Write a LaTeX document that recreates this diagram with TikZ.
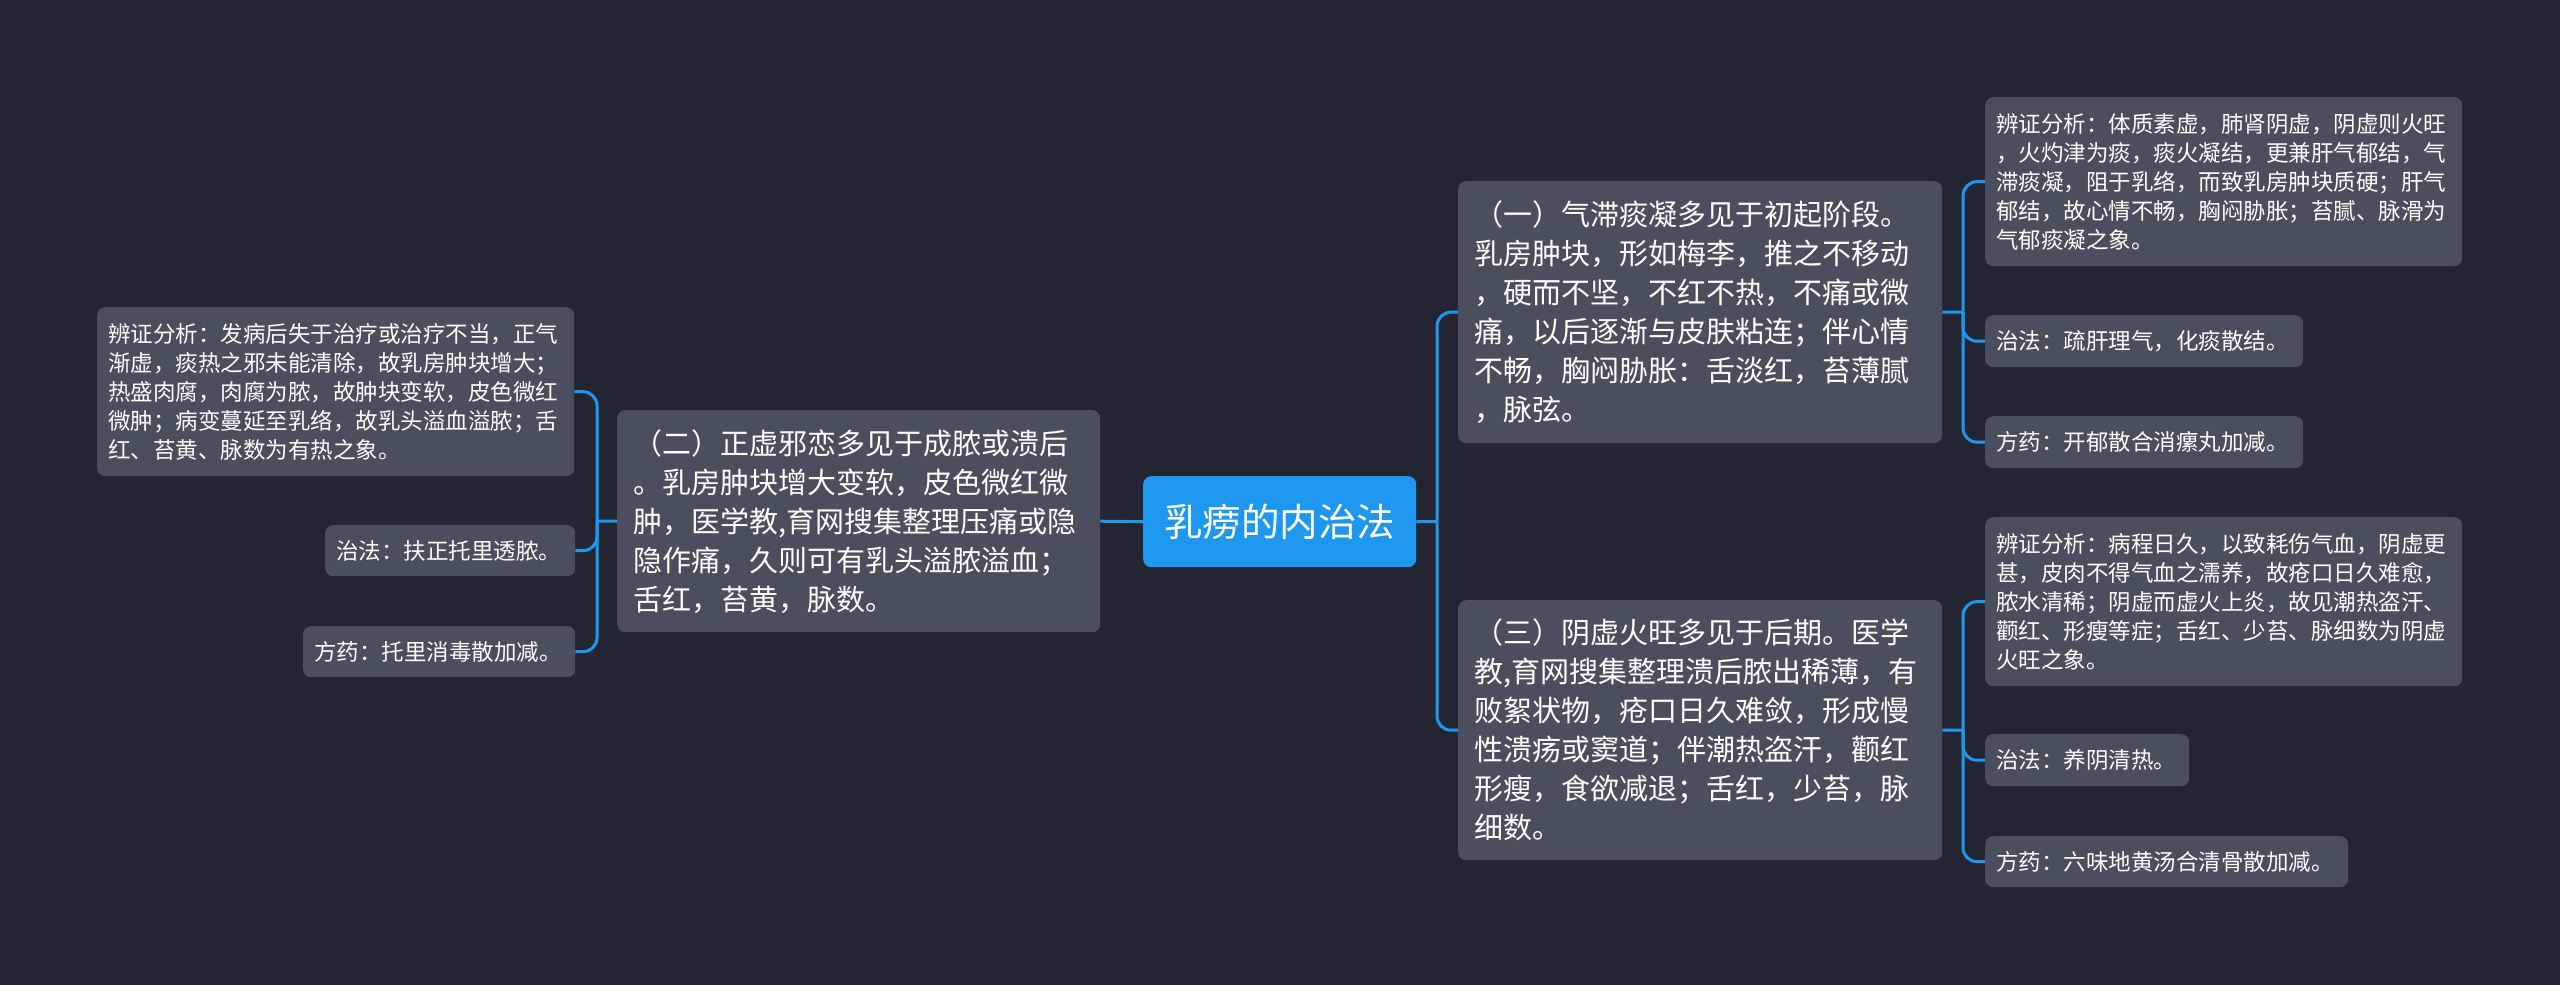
\documentclass[tikz,border=0pt]{standalone}
\usepackage{fontspec}
\setmainfont{Noto Sans CJK SC}
\definecolor{bgc}{HTML}{232632}
\definecolor{boxc}{HTML}{4A4F5D}
\definecolor{bluec}{HTML}{1E98EE}
\tikzset{
  base/.style={fill=boxc, rounded corners=8pt, text=white, anchor=north west, align=left},
  big/.style={base, inner xsep=16pt, inner ysep=0pt, font=\fontsize{29}{39}\selectfont},
  small/.style={base, inner xsep=11pt, inner ysep=0pt, font=\fontsize{22.5}{29}\selectfont},
  rootbox/.style={fill=bluec, rounded corners=8pt, text=white, anchor=north west, align=center, inner sep=0pt, font=\fontsize{38.5}{44}\selectfont},
  conn/.style={draw=bluec, line width=3pt},
  elbow/.style={conn, rounded corners=14pt}
}
\begin{document}
\begin{tikzpicture}[x=1pt, y=-1pt]
\fill[bgc] (0,0) rectangle (2560,985);
\useasboundingbox (0,0) rectangle (2560,985);

% root
\node[rootbox, minimum width=273pt, minimum height=91pt] (root) at (1143,476) {乳痨的内治法};

% main branches
\node[big, text width=451pt, minimum height=222pt] (two) at (617,410) {（二）正虚邪恋多见于成脓或溃后\\。乳房肿块增大变软，皮色微红微\\肿，医学教,育网搜集整理压痛或隐\\隐作痛，久则可有乳头溢脓溢血；\\舌红，苔黄，脉数。};
\node[big, text width=452pt, minimum height=262pt] (one) at (1458,181) {（一）气滞痰凝多见于初起阶段。\\乳房肿块，形如梅李，推之不移动\\，硬而不坚，不红不热，不痛或微\\痛，以后逐渐与皮肤粘连；伴心情\\不畅，胸闷胁胀：舌淡红，苔薄腻\\，脉弦。};
\node[big, text width=452pt, minimum height=260pt] (three) at (1458,600) {（三）阴虚火旺多见于后期。医学\\教,育网搜集整理溃后脓出稀薄，有\\败絮状物，疮口日久难敛，形成慢\\性溃疡或窦道；伴潮热盗汗，颧红\\形瘦，食欲减退；舌红，少苔，脉\\细数。};

% left leaves
\node[small, text width=455pt, minimum height=169pt] (la) at (97,307) {辨证分析：发病后失于治疗或治疗不当，正气\\渐虚，痰热之邪未能清除，故乳房肿块增大；\\热盛肉腐，肉腐为脓，故肿块变软，皮色微红\\微肿；病变蔓延至乳络，故乳头溢血溢脓；舌\\红、苔黄、脉数为有热之象。};
\node[small, text width=228pt, minimum height=51pt] (lb) at (325,525) {治法：扶正托里透脓。};
\node[small, text width=250pt, minimum height=51pt] (lc) at (303,626) {方药：托里消毒散加减。};

% right leaves of (one)
\node[small, text width=455pt, minimum height=169pt] (ra) at (1985,97) {辨证分析：体质素虚，肺肾阴虚，阴虚则火旺\\，火灼津为痰，痰火凝结，更兼肝气郁结，气\\滞痰凝，阻于乳络，而致乳房肿块质硬；肝气\\郁结，故心情不畅，胸闷胁胀；苔腻、脉滑为\\气郁痰凝之象。};
\node[small, text width=296pt, minimum height=52pt] (rb) at (1985,315) {治法：疏肝理气，化痰散结。};
\node[small, text width=296pt, minimum height=52pt] (rc) at (1985,416) {方药：开郁散合消瘰丸加减。};

% right leaves of (three)
\node[small, text width=455pt, minimum height=169pt] (rd) at (1985,517) {辨证分析：病程日久，以致耗伤气血，阴虚更\\甚，皮肉不得气血之濡养，故疮口日久难愈，\\脓水清稀；阴虚而虚火上炎，故见潮热盗汗、\\颧红、形瘦等症；舌红、少苔、脉细数为阴虚\\火旺之象。};
\node[small, text width=182pt, minimum height=52pt] (re) at (1985,734) {治法：养阴清热。};
\node[small, text width=341pt, minimum height=51pt] (rf) at (1985,836) {方药：六味地黄汤合清骨散加减。};

% junctions
\coordinate (jR) at (1437,521.5);
\coordinate (jL) at (597,521);
\coordinate (j1) at (1963,312);
\coordinate (j3) at (1963,730);

% connectors
\draw[conn] (root.west) -- (two.east);
\draw[conn] (root.east) -- (jR);
\draw[elbow] (jR) |- (one.west);
\draw[elbow] (jR) |- (three.west);

\draw[conn] (two.west) -- (jL);
\draw[elbow] (jL) |- (la.east);
\draw[elbow] (jL) |- (lb.east);
\draw[elbow] (jL) |- (lc.east);

\draw[conn] (one.east) -- (j1);
\draw[elbow] (j1) |- (ra.west);
\draw[elbow] (j1) |- (rb.west);
\draw[elbow] (j1) |- (rc.west);

\draw[conn] (three.east) -- (j3);
\draw[elbow] (j3) |- (rd.west);
\draw[elbow] (j3) |- (re.west);
\draw[elbow] (j3) |- (rf.west);
\end{tikzpicture}
\end{document}
